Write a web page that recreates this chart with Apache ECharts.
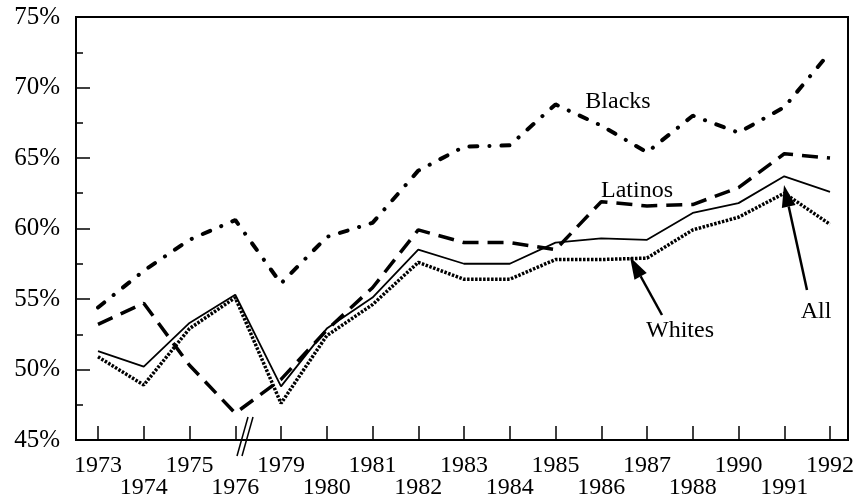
<!DOCTYPE html>
<html>
<head>
<meta charset="utf-8">
<script src="https://cdn.jsdelivr.net/npm/echarts@6/dist/echarts.min.js"></script>
<style>
html,body{margin:0;padding:0;background:#fff;}
#main{width:865px;height:502px;}
</style>
</head>
<body>
<div id="main"></div>
<script>
var years = ['1973','1974','1975','1976','1979','1980','1981','1982','1983','1984','1985','1986','1987','1988','1990','1991','1992'];
var blacks = [54.4,57.0,59.2,60.6,56.1,59.4,60.4,64.1,65.8,65.9,68.8,67.3,65.4,68.0,66.8,68.6,72.5];
var latinos = [53.2,54.7,50.3,46.9,49.3,52.8,55.8,59.9,59.0,59.0,58.5,61.9,61.6,61.7,62.9,65.3,65.0];
var all = [51.3,50.2,53.3,55.3,48.8,52.9,55.1,58.5,57.5,57.5,59.0,59.3,59.2,61.1,61.8,63.7,62.6];
var whites = [50.9,48.9,52.9,55.1,47.6,52.4,54.6,57.6,56.4,56.4,57.8,57.8,57.9,59.9,60.8,62.5,60.3];

var FONT = '"Liberation Serif", "DejaVu Serif", serif';

// arrow made of a shaft and a filled head, tip at (x2,y2)
function arrow(x1, y1, x2, y2){
	var dx = x2 - x1, dy = y2 - y1;
	var len = Math.sqrt(dx*dx + dy*dy);
	var ux = dx/len, uy = dy/len;
	var hl = 22, hw = 7;
	var bx = x2 - ux*hl, by = y2 - uy*hl;
	return [
		{type:'line', shape:{x1:x1, y1:y1, x2:bx, y2:by}, style:{stroke:'#000', lineWidth:2.5}, z:100},
		{type:'polygon', shape:{points:[[x2,y2],[bx - uy*hw, by + ux*hw],[bx + uy*hw, by - ux*hw]]}, style:{fill:'#000'}, z:100}
	];
}

function label(t, x, y){
	return {type:'text', x:x, y:y, z:100, style:{text:t, fill:'#000', font:'24px ' + FONT, textAlign:'center', textVerticalAlign:'middle'}};
}

var graphics = [
	label('Blacks', 618, 102),
	label('Latinos', 637, 191),
	label('Whites', 680, 331),
	label('All', 816, 312),
	{type:'line', shape:{x1:237, y1:456, x2:248, y2:417}, style:{stroke:'#000', lineWidth:1.5}, z:100},
	{type:'line', shape:{x1:242, y1:456, x2:253, y2:417}, style:{stroke:'#000', lineWidth:1.5}, z:100}
].concat(arrow(662, 315, 630, 257)).concat(arrow(807, 290, 784, 185));

var chart = echarts.init(document.getElementById('main'), null, {renderer:'canvas'});

var option = {
	animation: false,
	backgroundColor: '#fff',
	grid: [
		{left:98, right:35, top:17, bottom:62},
		// outer frame
		{left:76, right:17, top:17, bottom:62, show:true, borderColor:'#000', borderWidth:2, backgroundColor:'transparent'}
	],
	xAxis: [
		{
			type: 'category',
			gridIndex: 0,
			data: years,
			boundaryGap: false,
			splitLine: {show:false},
			axisLine: {show:false},
			axisTick: {show:true, inside:true, length:14, interval:0, lineStyle:{color:'#000', width:1.5}},
			axisLabel: {
				interval: 0,
				margin: 15,
				color: '#000',
				fontFamily: FONT,
				fontSize: 24,
				lineHeight: 22,
				formatter: function(v, i){
					return (i % 2 == 1 ? '\n' : '') + v;
				}
			}
		},
		{type:'value', gridIndex:1, show:false}
	],
	yAxis: [
		{
			type: 'value',
			gridIndex: 0,
			offset: 22,
			min: 45,
			max: 75,
			interval: 5,
			splitLine: {show:false},
			axisLine: {show:true, lineStyle:{color:'#000', width:2}},
			axisTick: {show:true, inside:true, length:14, lineStyle:{color:'#000', width:1.5}},
			minorTick: {show:true, splitNumber:2, length:7, lineStyle:{color:'#000', width:1.5}},
			minorSplitLine: {show:false},
			axisLabel: {
				margin: 16,
				color: '#000',
				fontFamily: FONT,
				fontSize: 25,
				formatter: '{value}%'
			}
		},
		{type:'value', gridIndex:1, show:false}
	],
	series: [
		{
			name: 'Blacks',
			type: 'line',
			data: blacks,
			symbol: 'none',
			lineStyle: {color:'#000', width:4, type:[8, 12, 0.1, 12], cap:'round'}
		},
		{
			name: 'Latinos',
			type: 'line',
			data: latinos,
			symbol: 'none',
			lineStyle: {color:'#000', width:3.5, type:[16, 9]}
		},
		{
			name: 'All',
			type: 'line',
			data: all,
			symbol: 'none',
			lineStyle: {color:'#000', width:1.8, type:'solid'}
		},
		{
			name: 'Whites',
			type: 'line',
			data: whites,
			symbol: 'none',
			lineStyle: {color:'#000', width:3.5, type:[2.5, 1.5]}
		}
	],
	graphic: graphics
};

chart.setOption(option);
</script>
</body>
</html>
